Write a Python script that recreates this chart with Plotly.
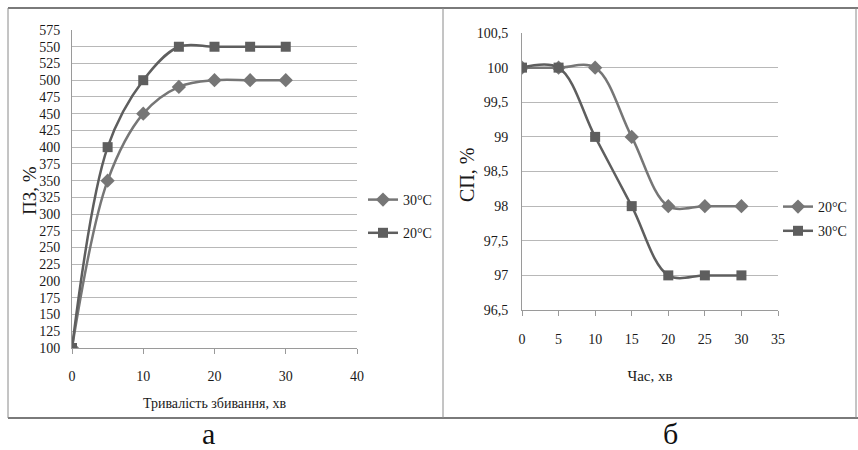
import plotly.graph_objects as go

# ---- data ----
time_a = [0, 5, 10, 15, 20, 25, 30]
pz_30 = [100, 350, 450, 490, 500, 500, 500]
pz_20 = [100, 400, 500, 550, 550, 550, 550]

time_b = [0, 5, 10, 15, 20, 25, 30]
sp_20 = [100, 100, 100, 99, 98, 98, 98]
sp_30 = [100, 100, 99, 98, 97, 97, 97]

yticks_a = list(range(100, 576, 25))
yticks_b = [96.5, 97, 97.5, 98, 98.5, 99, 99.5, 100, 100.5]
ytext_b = ["96,5", "97", "97,5", "98", "98,5", "99", "99,5", "100", "100,5"]

W, H = 858, 450
FONT = "Liberation Serif"
C_LIGHT = "#767676"
C_DARK = "#5e5e5e"

def px(x):
    return x / W

def py(y):
    return 1 - y / H

fig = go.Figure()

# left panel
fig.add_trace(go.Scatter(x=time_a, y=pz_30, name="30°C", mode="lines+markers",
                         line=dict(color=C_LIGHT, width=2.5, shape="spline", smoothing=1),
                         marker=dict(symbol="diamond", size=11, color=C_LIGHT),
                         xaxis="x", yaxis="y", legend="legend", legendgroup="a1"))
fig.add_trace(go.Scatter(x=time_a, y=pz_20, name="20°C", mode="lines+markers",
                         line=dict(color=C_DARK, width=2.5, shape="spline", smoothing=1),
                         marker=dict(symbol="square", size=10, color=C_DARK),
                         xaxis="x", yaxis="y", legend="legend", legendgroup="a2"))
# right panel
fig.add_trace(go.Scatter(x=time_b, y=sp_20, name="20°C", mode="lines+markers",
                         line=dict(color=C_LIGHT, width=2.5, shape="spline", smoothing=1),
                         marker=dict(symbol="diamond", size=11, color=C_LIGHT),
                         xaxis="x2", yaxis="y2", legend="legend2", legendgroup="b1"))
fig.add_trace(go.Scatter(x=time_b, y=sp_30, name="30°C", mode="lines+markers",
                         line=dict(color=C_DARK, width=2.5, shape="spline", smoothing=1),
                         marker=dict(symbol="square", size=10, color=C_DARK),
                         xaxis="x2", yaxis="y2", legend="legend2", legendgroup="b2"))

tickfont = dict(family=FONT, size=14, color="#1a1a1a")
legfont = dict(family=FONT, size=14, color="#1a1a1a")

fig.update_layout(
    width=W, height=H,
    margin=dict(l=0, r=0, t=0, b=0, autoexpand=False),
    paper_bgcolor="white", plot_bgcolor="white",
    font=dict(family=FONT, color="#1a1a1a"),
    hovermode=False,
    xaxis=dict(domain=[px(72), px(357)], range=[0, 40], dtick=10, anchor="y", automargin=False,
               showgrid=False, zeroline=False, showline=True, linecolor="#9a9a9a", linewidth=1,
               ticks="outside", ticklen=5, tickcolor="#9a9a9a", tickfont=tickfont,
               ticklabelstandoff=10,
               title=dict(text="Тривалість збивання, хв",
                          font=dict(family=FONT, size=14, color="#1a1a1a"), standoff=15)),
    yaxis=dict(domain=[py(348), py(30)], range=[100, 575], tickvals=yticks_a, anchor="x",
               automargin=False,
               showgrid=True, gridcolor="#b8b8b8", gridwidth=1, zeroline=False,
               showline=True, linecolor="#9a9a9a", linewidth=1, ticks="", tickfont=tickfont,
               ticklabelstandoff=8),
    xaxis2=dict(domain=[px(522), px(778)], range=[0, 35], dtick=5, anchor="y2", automargin=False,
                showgrid=False, zeroline=False, showline=True, linecolor="#9a9a9a", linewidth=1,
                ticks="outside", ticklen=5, tickcolor="#9a9a9a", tickfont=tickfont,
                ticklabelstandoff=11,
                title=dict(text="Час, хв",
                           font=dict(family=FONT, size=15, color="#1a1a1a"), standoff=24)),
    yaxis2=dict(domain=[py(310), py(33)], range=[96.5, 100.5], tickvals=yticks_b, ticktext=ytext_b,
                anchor="x2", automargin=False,
                showgrid=True, gridcolor="#b8b8b8", gridwidth=1, zeroline=False,
                showline=True, linecolor="#9a9a9a", linewidth=1, ticks="", tickfont=tickfont,
                ticklabelstandoff=10),
    legend=dict(x=px(363), y=py(184), xanchor="left", yanchor="top", font=legfont,
                bgcolor="rgba(0,0,0,0)", itemwidth=30, tracegroupgap=12),
    legend2=dict(x=px(778), y=py(191), xanchor="left", yanchor="top", font=legfont,
                 bgcolor="rgba(0,0,0,0)", itemwidth=30, tracegroupgap=3),
    showlegend=True,
)

# y-axis titles (rotated)
fig.add_annotation(text="ПЗ, %", x=px(30), y=py(191), xref="paper", yref="paper",
                   xanchor="center", yanchor="middle", textangle=-90, showarrow=False,
                   font=dict(family=FONT, size=19, color="#1a1a1a"))
fig.add_annotation(text="СП, %", x=px(467), y=py(175), xref="paper", yref="paper",
                   xanchor="center", yanchor="middle", textangle=-90, showarrow=False,
                   font=dict(family=FONT, size=20, color="#1a1a1a"))

# frame (table-like borders)
shapes = [
    dict(type="line", xref="paper", yref="paper", x0=px(8), x1=1, y0=py(8), y1=py(8),
         line=dict(color="#7a7a7a", width=2)),
    dict(type="line", xref="paper", yref="paper", x0=px(8), x1=1, y0=py(418), y1=py(418),
         line=dict(color="#7a7a7a", width=2)),
    dict(type="line", xref="paper", yref="paper", x0=px(8), x1=px(8), y0=py(8), y1=py(418),
         line=dict(color="#8a8a8a", width=1)),
    dict(type="line", xref="paper", yref="paper", x0=px(443), x1=px(443), y0=py(8), y1=py(418),
         line=dict(color="#8a8a8a", width=1)),
    dict(type="line", xref="paper", yref="paper", x0=px(856), x1=px(856), y0=py(8), y1=py(418),
         line=dict(color="#8a8a8a", width=1)),
]
fig.update_layout(shapes=shapes)

fig.add_annotation(text="а", x=px(208), y=py(433), xref="paper", yref="paper",
                   xanchor="center", yanchor="middle",
                   showarrow=False, font=dict(family=FONT, size=30, color="#111"))
fig.add_annotation(text="б", x=px(670), y=py(433), xref="paper", yref="paper",
                   xanchor="center", yanchor="middle",
                   showarrow=False, font=dict(family=FONT, size=30, color="#111"))

fig.write_html("out.html", config={"displayModeBar": False},
               post_script="document.body.style.margin='0';document.body.style.padding='0';")
